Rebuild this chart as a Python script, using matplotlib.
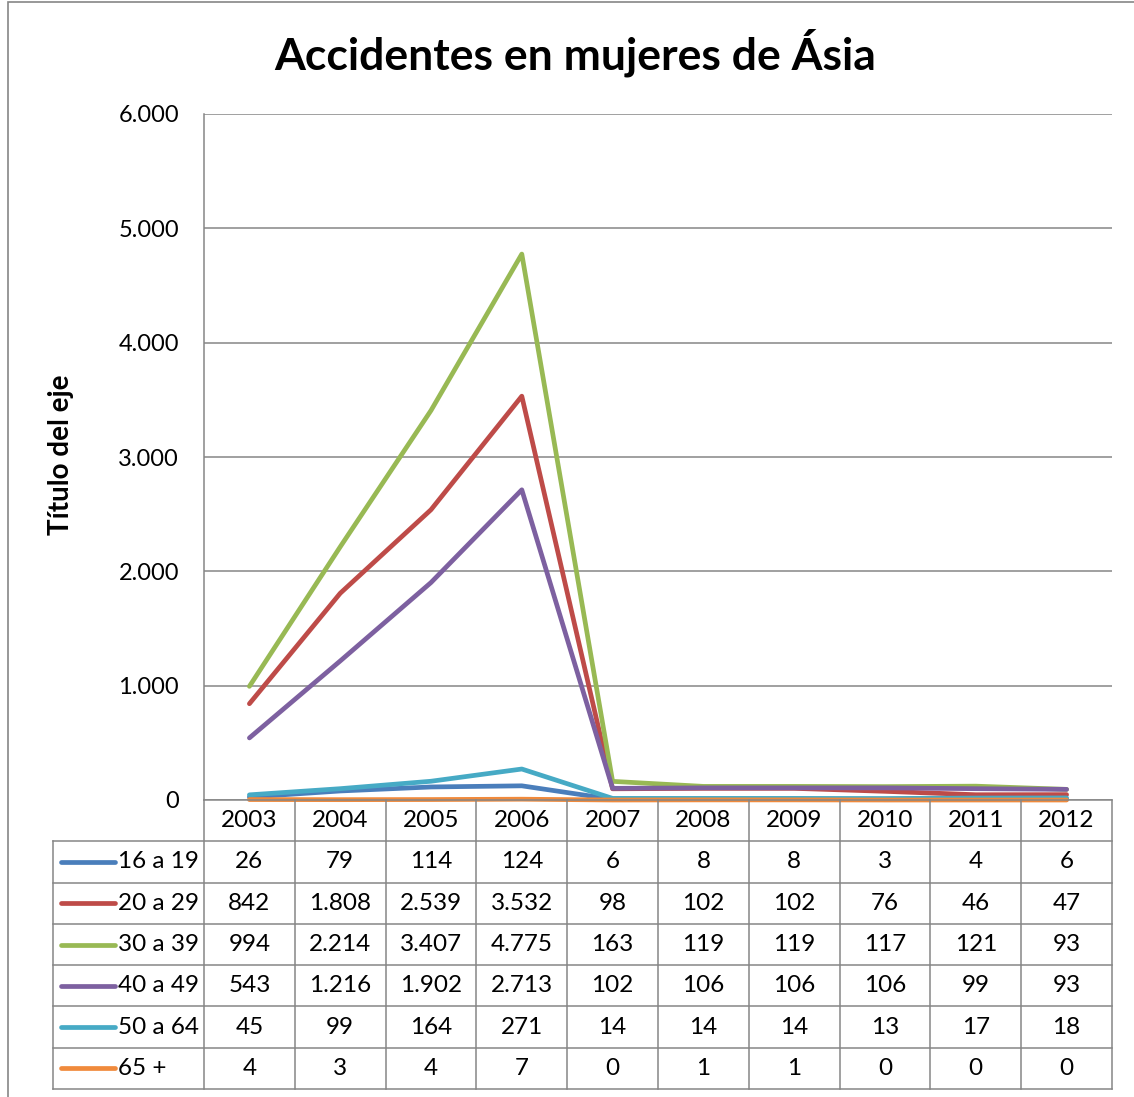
import matplotlib
matplotlib.use("Agg")
import matplotlib.pyplot as plt
import numpy as np
from matplotlib.patches import Rectangle

plt.rcParams['font.family'] = ['Lato', 'DejaVu Sans']

years = ["2003", "2004", "2005", "2006", "2007", "2008", "2009", "2010", "2011", "2012"]
labels = ["16 a 19", "20 a 29", "30 a 39", "40 a 49", "50 a 64", "65 +"]
s16_19 = [26, 79, 114, 124, 6, 8, 8, 3, 4, 6]
s20_29 = [842, 1808, 2539, 3532, 98, 102, 102, 76, 46, 47]
s30_39 = [994, 2214, 3407, 4775, 163, 119, 119, 117, 121, 93]
s40_49 = [543, 1216, 1902, 2713, 102, 106, 106, 106, 99, 93]
s50_64 = [45, 99, 164, 271, 14, 14, 14, 13, 17, 18]
s65 = [4, 3, 4, 7, 0, 1, 1, 0, 0, 0]
series = [s16_19, s20_29, s30_39, s40_49, s50_64, s65]
colors = ["#4A7EBB", "#BE4B48", "#98B954", "#7D60A0", "#46AAC5", "#F08A3C"]
yticks = [0, 1000, 2000, 3000, 4000, 5000, 6000]

W, H = 1134, 1097
GRAY = "#868686"
FS = 17.5


def box(x0, y0, x1, y1):
    return [x0 / W, 1 - y1 / H, (x1 - x0) / W, (y1 - y0) / H]


def fmt(v):
    return f"{v:,}".replace(",", ".")


fig = plt.figure(figsize=(W / 100, H / 100), dpi=100)
fig.patches.append(Rectangle((8 / W, -0.1), 1.2, 1 - 2 / H + 0.1, transform=fig.transFigure,
                             fill=False, edgecolor=GRAY, lw=1.2))

ax = fig.add_axes(box(204, 114, 1112, 800))
x = np.arange(len(years))
for vals, c in zip(series, colors):
    ax.plot(x, vals, color=c, lw=3.4, solid_capstyle="round", clip_on=False, zorder=3)
ax.set_xlim(-0.5, len(years) - 0.5)
ax.set_ylim(0, 6000)
ax.set_yticks(yticks)
ax.set_yticklabels([fmt(v) for v in yticks], fontsize=17)
ax.set_xticks([])
ax.tick_params(axis="y", length=0, pad=18)
ax.grid(axis="y", color=GRAY, lw=1.1)
ax.set_axisbelow(True)
for side in ["top", "right", "bottom"]:
    ax.spines[side].set_visible(False)
ax.spines["left"].set_color(GRAY)
ax.spines["left"].set_linewidth(1.1)

fig.text(575 / W, 1 - 53 / H, "Accidentes en mujeres de Ásia", ha="center", va="center",
         fontsize=32, fontweight="bold")
fig.text(61 / W, 1 - 455 / H, "Título del eje", rotation=90, ha="center", va="center",
         fontsize=20, fontweight="bold")

# data table below the plot
lab_w = (204 - 53) / ((1112 - 204) / len(years))
xl = -0.5 - lab_w
tx = fig.add_axes(box(53, 800, 1112, 1089))
tx.set_xlim(xl, len(years) - 0.5)
tx.set_ylim(len(series) + 1, 0)
tx.axis("off")
nrow = len(series) + 1
for r in range(1, nrow + 1):
    tx.plot([xl, len(years) - 0.5], [r, r], color=GRAY, lw=1.1, clip_on=False)
tx.plot([-0.5, len(years) - 0.5], [0, 0], color=GRAY, lw=1.1, clip_on=False)
for k in range(len(years) + 1):
    tx.plot([k - 0.5, k - 0.5], [0, nrow], color=GRAY, lw=1.1, clip_on=False)
tx.plot([xl, xl], [1, nrow], color=GRAY, lw=1.1, clip_on=False)

for i, yr in enumerate(years):
    tx.text(i, 0.5, yr, ha="center", va="center", fontsize=FS)
for r, (lab, vals, c) in enumerate(zip(labels, series, colors), start=1):
    kx0 = xl + 8 / 90.8
    tx.plot([kx0, kx0 + 54 / 90.8], [r + 0.5, r + 0.5], color=c, lw=3.4,
            solid_capstyle="round", clip_on=False)
    tx.text(kx0 + 57 / 90.8, r + 0.5, lab, ha="left", va="center", fontsize=FS)
    for i, v in enumerate(vals):
        tx.text(i, r + 0.5, fmt(v), ha="center", va="center", fontsize=FS)

fig.savefig("out.png", dpi=100)
